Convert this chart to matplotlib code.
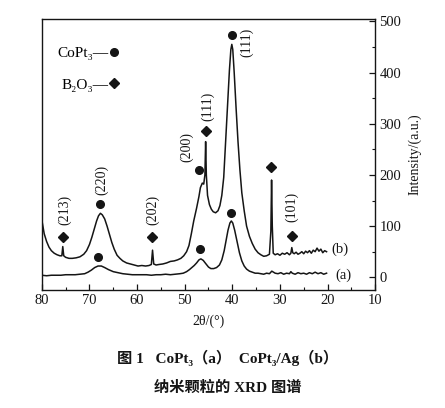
import matplotlib
matplotlib.use("Agg")
import matplotlib.pyplot as plt
from matplotlib.lines import Line2D

plt.rcParams['font.family'] = ['Liberation Serif', 'Noto Sans CJK SC', 'DejaVu Sans']

# ---- data (2theta in degrees, intensity a.u.) ----
b_x = [20.2, 20.6, 21.0, 21.4, 21.8, 22.2, 22.6, 23.0, 23.4, 23.8,
       24.2, 24.6, 25.0, 25.4, 25.8, 26.2, 26.6, 27.0, 27.3, 27.5,
       27.7, 28.0, 28.5, 29.0, 29.5, 30.0, 30.5, 31.0, 31.4, 31.6,
       31.75, 31.9, 32.2, 32.8, 33.4, 34.0, 34.6, 35.2, 35.8, 36.4,
       37.0, 37.5, 38.0, 38.4, 38.8, 39.2, 39.6, 39.9, 40.1, 40.3,
       40.6, 41.0, 41.4, 41.8, 42.2, 42.6, 43.0, 43.5, 44.0, 44.4,
       44.8, 45.2, 45.45, 45.6, 45.75, 46.0, 46.3, 46.7, 47.0, 47.5,
       48.1, 48.6, 49.1, 49.6, 50.2, 50.8, 51.5, 52.2, 53.0, 53.8,
       54.6, 55.4, 56.0, 56.5, 56.75, 57.0, 57.5, 58.2, 59.0, 59.8,
       60.6, 61.4, 62.2, 63.0, 63.6, 64.2, 64.8, 65.3, 65.8, 66.3,
       66.8, 67.3, 67.7, 68.1, 68.5, 69.0, 69.5, 70.0, 70.6, 71.2,
       72.0, 72.8, 73.6, 74.3, 75.0, 75.4, 75.6, 75.8, 76.2, 76.8,
       77.4, 78.0, 78.5, 79.0, 79.5, 80.0]
b_y = [50, 52, 48, 55, 51, 57, 50, 53, 47, 52,
       48, 51, 46, 50, 47, 45, 49, 46, 48, 58,
       47, 44, 48, 45, 47, 43, 46, 44, 47, 100,
       190, 90, 45, 42, 41, 44, 48, 55, 66, 80,
       100, 130, 165, 210, 265, 330, 400, 445, 455, 445,
       405, 335, 265, 195, 160, 140, 130, 126, 128, 133,
       142, 160, 200, 265, 200, 182, 184, 175, 158, 135,
       110, 85, 62, 50, 42, 37, 34, 32, 31, 28,
       26, 25, 24, 26, 53, 25, 23, 22, 23, 22,
       24, 26, 28, 32, 37, 43, 55, 68, 84, 100,
       114, 122, 125, 120, 110, 94, 78, 64, 52, 45,
       40, 38, 37, 37, 39, 42, 60, 42, 42, 44,
       47, 52, 59, 70, 85, 112]

a_x = [20.2, 20.8, 21.4, 22.0, 22.6, 23.2, 23.8, 24.4, 25.0, 25.6,
       26.2, 26.8, 27.4, 27.7, 28.0, 28.6, 29.2, 29.8, 30.4, 31.0,
       31.7, 32.2, 32.8, 33.4, 34.0, 34.6, 35.2, 35.8, 36.4, 37.0,
       37.5, 38.0, 38.5, 39.0, 39.5, 39.9, 40.2, 40.5, 40.9, 41.3,
       41.7, 42.2, 42.7, 43.3, 43.9, 44.5, 45.0, 45.6, 46.1, 46.6,
       47.0, 47.5, 48.0, 48.5, 49.0, 49.6, 50.3, 51.0, 52.0, 53.0,
       54.0, 55.0, 56.0, 57.0, 58.0, 59.0, 60.0, 61.0, 62.0, 63.0,
       64.0, 65.0, 66.0, 66.8, 67.5, 68.2, 68.9, 69.6, 70.3, 71.0,
       72.0, 73.0, 74.0, 75.0, 76.0, 77.0, 78.0, 79.0, 80.0]
a_y = [8, 6, 9, 7, 10, 7, 9, 6, 8, 7,
       9, 6, 8, 11, 7, 8, 6, 9, 7, 8,
       12, 7, 8, 6, 7, 8, 8, 10, 12, 16,
       22, 32, 48, 70, 92, 106, 110, 106, 92, 72,
       52, 34, 24, 19, 17, 17, 20, 27, 33, 36,
       34, 28, 23, 19, 15, 11, 8, 7, 6, 5,
       6, 5, 5, 4, 5, 5, 5, 5, 6, 7,
       9, 11, 15, 19, 22, 22, 19, 14, 10, 7,
       6, 5, 5, 5, 4, 4, 4, 3, 4]

# CoPt3 peak markers (circles) and B2O3 markers (diamonds)
cop_x = [40.1, 47.0, 67.8, 40.3, 46.8, 68.2]
cop_y = [474, 210, 144, 125, 55, 40]
boo_x = [45.5, 31.8, 27.5, 56.8, 75.6]
boo_y = [285, 216, 81, 78, 78]

# peak labels
lab_text = ['(111)', '(111)', '(200)', '(220)', '(202)', '(213)', '(101)']
lab_x = [37.0, 45.1, 49.5, 67.5, 56.7, 75.3, 27.6]
lab_y = [459, 334, 255, 190, 131, 131, 137]

x_ticks = [80, 70, 60, 50, 40, 30, 20, 10]
y_ticks = [0, 100, 200, 300, 400, 500]

ink = '#151515'

fig = plt.figure(figsize=(4.45, 4.08), dpi=100)
ax = fig.add_axes([0.094, 0.289, 0.749, 0.665])

ax.plot(b_x, b_y, color=ink, lw=1.1)
ax.plot(a_x, a_y, color=ink, lw=1.1)
ax.plot(cop_x, cop_y, 'o', color=ink, ms=5.5, mec=ink)
ax.plot(boo_x, boo_y, 'D', color=ink, ms=5.0, mec=ink)

for t, x, y in zip(lab_text, lab_x, lab_y):
    ax.text(x, y, t, rotation=90, ha='center', va='center', fontsize=10, color=ink)

ax.text(17.3, 55, '(b)', ha='center', va='center', fontsize=10.5, color=ink)
ax.text(16.6, 4, '(a)', ha='center', va='center', fontsize=10.5, color=ink)

handles = [Line2D([], [], marker='o', ls='none', color=ink, ms=5.5),
           Line2D([], [], marker='D', ls='none', color=ink, ms=5.0)]
ax.legend(handles, ['CoPt\u2083\u2014', 'B\u2082O\u2083\u2014'], loc='upper left',
          bbox_to_anchor=(0.048, 0.897), frameon=False, markerfirst=False,
          fontsize=11, handlelength=0.6, handletextpad=0.05, labelspacing=1.15,
          borderaxespad=0, borderpad=0)

ax.set_xlim(80, 10)
ax.set_ylim(-25, 505)
ax.set_xticks(x_ticks)
ax.set_xticks([75, 65, 55, 45, 35, 25, 15], minor=True)
ax.set_yticks(y_ticks)
ax.set_yticks([50, 150, 250, 350, 450], minor=True)
ax.yaxis.tick_right()
ax.yaxis.set_label_position('right')
ax.tick_params(axis='x', which='both', direction='in', top=False, labelsize=10.5, pad=3, colors=ink)
ax.tick_params(axis='y', which='both', direction='in', left=False, right=True, labelsize=10.5, pad=3, colors=ink)
ax.tick_params(which='major', length=4, width=0.9)
ax.tick_params(which='minor', length=2.5, width=0.8)
for s in ax.spines.values():
    s.set_color(ink)
    s.set_linewidth(1.0)

ax.set_xlabel('2θ/(°)', fontsize=10, labelpad=5, color=ink)
ax.set_ylabel('Intensity/(a.u.)', fontsize=10, rotation=90, labelpad=5, color=ink)

fig.text(0.512, 0.122, '图 1   CoPt\u2083（a）  CoPt\u2083/Ag（b）', ha='center', va='center',
         fontsize=11, fontweight='bold', color=ink)
fig.text(0.512, 0.049, '纳米颗粒的 XRD 图谱', ha='center', va='center',
         fontsize=11, fontweight='bold', color=ink)

fig.savefig('out.png', dpi=100)
